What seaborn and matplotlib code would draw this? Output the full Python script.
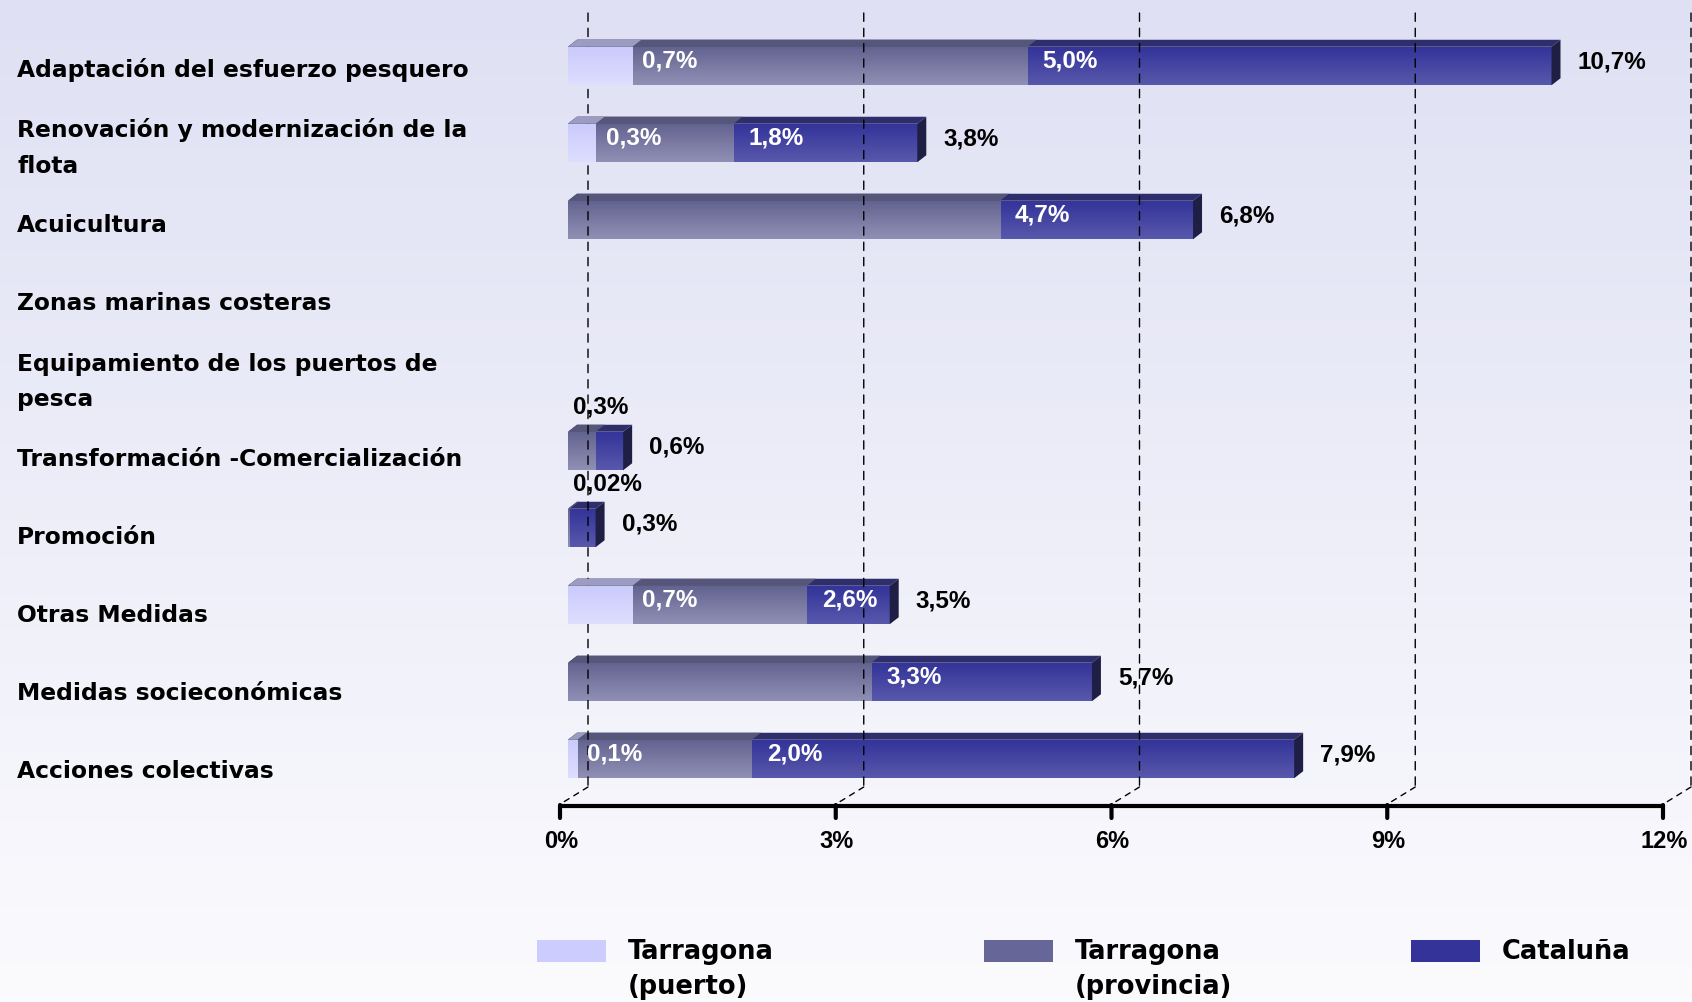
import numpy as np
import pandas as pd
import seaborn as sns
import matplotlib.pyplot as plt
from matplotlib import transforms
from matplotlib.colors import to_rgb
from matplotlib.patches import Polygon, Rectangle

# Data (cumulative %: puerto <= provincia <= Cataluña)
medidas = [
    'Adaptación del esfuerzo pesquero',
    'Renovación y modernización de la\nflota',
    'Acuicultura',
    'Zonas marinas costeras',
    'Equipamiento de los puertos de\npesca',
    'Transformación -Comercialización',
    'Promoción',
    'Otras Medidas',
    'Medidas socieconómicas',
    'Acciones colectivas',
]
tarragona_puerto = [0.7, 0.3, 0, 0, 0, 0, 0, 0.7, 0, 0.1]
tarragona_provincia = [5.0, 1.8, 4.7, 0, 0, 0.3, 0.02, 2.6, 3.3, 2.0]
cataluna = [10.7, 3.8, 6.8, 0, 0, 0.6, 0.3, 3.5, 5.7, 7.9]

x_ticks = [0, 3, 6, 9, 12]
x_tick_labels = ['0%', '3%', '6%', '9%', '12%']
legend_labels = ['Tarragona\n(puerto)', 'Tarragona\n(provincia)', 'Cataluña']

df = pd.DataFrame({'medida': medidas, 'puerto': tarragona_puerto,
                   'provincia': tarragona_provincia, 'cataluna': cataluna})

# colours: flat, gradient top, gradient bottom, top face
styles = {
    'cataluna': ('#333399', '#333399', '#5858ac', '#2e2e6c'),
    'provincia': ('#666699', '#62628f', '#9090b6', '#56567a'),
    'puerto': ('#ccccff', '#cacafc', '#dedeff', '#9c9cc2'),
}
side_color = '#1f1f45'

sns.set_theme(style='white')
plt.rcParams['font.family'] = ['DejaVu Sans']
num_font = ['Liberation Sans', 'DejaVu Sans']

W, H = 1692, 1002
fig = plt.figure(figsize=(W / 100, H / 100), dpi=100)

# background gradient
bg = fig.add_axes([0, 0, 1, 1], zorder=-10)
g = np.linspace(0, 1, 256)[:, None, None]
c_top = np.array([223, 224, 243]) / 255
c_bot = np.array([251, 251, 254]) / 255
bg.imshow(c_top * (1 - g) + c_bot * g, aspect='auto', extent=[0, 1, 0, 1])
bg.set_axis_off()

ax = fig.add_axes([568 / W, 1 - 797.5 / H, 1103 / W, 770 / H])

layers = [('cataluna', 2), ('provincia', 3), ('puerto', 4)]
bars = {}
for col, z in layers:
    n0 = len(ax.patches)
    sns.barplot(data=df, x=col, y='medida', orient='h', color=styles[col][0],
                width=0.5, saturation=1, ax=ax, zorder=z)
    bars[col] = ax.patches[n0:]

ax.set_xlim(0, 12)
ax.set_ylim(9.5, -0.5)
ax.set_axis_off()

# pixel -> data scale for the 3D depth
sx = 12 / 1103
sy = 10 / 770
dx, dy = 9 * sx, 7 * sy


def grad_img(c1, c2):
    a = np.array(to_rgb(c1))
    b = np.array(to_rgb(c2))
    t = np.linspace(0, 1, 64)[:, None, None]
    return a * (1 - t) + b * t


for col, z in layers:
    flat, gtop, gbot, roof = styles[col]
    img = grad_img(gtop, gbot)
    for p in bars[col]:
        w = p.get_width()
        if w <= 0:
            p.set_visible(False)
            continue
        x0, y0, h = p.get_x(), p.get_y(), p.get_height()
        p.set_linewidth(0)
        im = ax.imshow(img, extent=(x0, x0 + w, y0 + h, y0), aspect='auto',
                       zorder=z, interpolation='bilinear')
        im.set_clip_path(p)
        ax.add_patch(Polygon([(x0, y0), (x0 + w, y0), (x0 + w + dx, y0 - dy),
                              (x0 + dx, y0 - dy)], closed=True, color=roof,
                             lw=0, zorder=z))
        if col == 'cataluna':
            ax.add_patch(Polygon([(x0 + w, y0), (x0 + w + dx, y0 - dy),
                                  (x0 + w + dx, y0 + h - dy), (x0 + w, y0 + h)],
                                 closed=True, color=side_color, lw=0, zorder=z))

ax.set_xlim(0, 12)
ax.set_ylim(9.5, -0.5)


def shift(base, px, py):
    return base + transforms.ScaledTranslation(px / 100, py / 100, fig.dpi_scale_trans)


def segment(t, y1, off1, y2, off2, **kw):
    # straight line between two points given in (data x, axes y) + pixel offsets
    ax.annotate('', xy=(t, y2), xycoords=shift(xa, *off2),
                xytext=(t, y1), textcoords=shift(xa, *off1),
                arrowprops=dict(arrowstyle='-', shrinkA=0, shrinkB=0, **kw),
                annotation_clip=False)


xa = transforms.blended_transform_factory(ax.transData, ax.transAxes)

# dashed back grid with slanted foot
for t in x_ticks:
    segment(t, 1, (20, 14.5), 0, (20, 10.5), color='black', lw=1, ls=(0, (6, 5)))
    segment(t, 0, (20, 10.5), 0, (-6, -5.5), color='black', lw=1, ls=(0, (4, 4)))

# front axis line + ticks + labels
ax.plot([0, 12], [0, 0], transform=shift(xa, -8, -8.5), color='black', lw=3,
        solid_capstyle='butt', clip_on=False, zorder=5)
for t, lab in zip(x_ticks, x_tick_labels):
    segment(t, 0, (-8, -7.5), 0, (-8, -20.5), color='black', lw=3)
    ax.text(t, 0, lab, transform=shift(xa, -7, -44.5), ha='center', va='center',
            fontsize=17, fontweight='bold', family=num_font, color='black')


def fmt(v):
    s = f'{v:.2f}' if v < 0.1 else f'{v:.1f}'
    return s.replace('.', ',') + '%'


lab_kw = dict(va='center', fontsize=17.5, fontweight='bold', family=num_font, zorder=6)

# value labels
for i in range(len(medidas)):
    pu, pr, ca = tarragona_puerto[i], tarragona_provincia[i], cataluna[i]
    if pu > 0 and pr > pu:
        ax.text(pu, i, fmt(pu), transform=shift(ax.transData, 10, 5), ha='left',
                color='white', **lab_kw)
    if pr > 0:
        if ca - pr >= 0.5:
            ax.text(pr, i, fmt(pr), transform=shift(ax.transData, 15, 5),
                    ha='left', color='white', **lab_kw)
        else:
            ax.text(0, i, fmt(pr), transform=shift(ax.transData, 5, 44),
                    ha='left', color='black', **lab_kw)
    if ca > 0:
        ax.text(ca, i, fmt(ca), transform=shift(ax.transData, 26, 4),
                ha='left', color='black', **lab_kw)

# category labels on the left (their rows are spaced a touch wider than the bars)
lab_tr = transforms.blended_transform_factory(fig.transFigure, ax.transData)
for i, m in enumerate(medidas):
    ax.text(17 / W, i, m, transform=shift(lab_tr, 0, -(4 + 1.0 * i)), ha='left',
            va='center', fontsize=16.8, fontweight='bold', color='black',
            linespacing=1.7)

# legend
leg_x = [537, 984, 1411]
for lx, lab, col in zip(leg_x, legend_labels, ['puerto', 'provincia', 'cataluna']):
    fig.add_artist(Rectangle((lx / W, 1 - 962 / H), 69 / W, 22 / H,
                             transform=fig.transFigure, color=styles[col][0], lw=0))
    fig.text((lx + 91) / W, 1 - 939 / H, lab, ha='left', va='top', fontsize=18.5,
             fontweight='bold', color='black', linespacing=1.45)

fig.savefig('out.png', dpi=100)
